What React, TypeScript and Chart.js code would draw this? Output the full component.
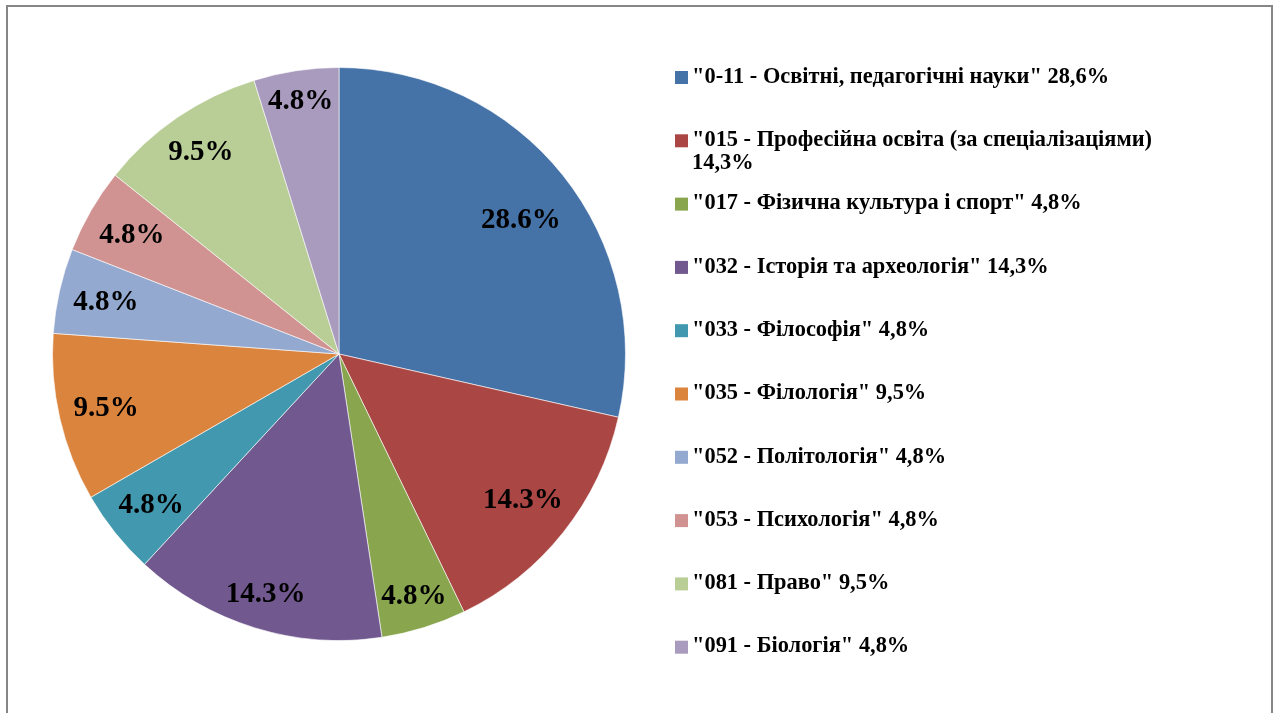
import React, { useEffect, useRef } from "react";
import { Chart, registerables } from "chart.js";

Chart.register(...registerables);

const categories = [
  '"0-11 - Освітні, педагогічні науки"',
  '"015 - Професійна освіта (за спеціалізаціями)',
  '"017 - Фізична культура і спорт"',
  '"032 - Історія та археологія"',
  '"033 - Філософія"',
  '"035 - Філологія"',
  '"052 - Політологія"',
  '"053 - Психологія"',
  '"081 - Право"',
  '"091 - Біологія"',
];

const percentValues = [28.6, 14.3, 4.8, 14.3, 4.8, 9.5, 4.8, 4.8, 9.5, 4.8];

const sliceColors = [
  "#4572A7",
  "#AA4643",
  "#89A54E",
  "#71588F",
  "#4198AF",
  "#DB843D",
  "#93A9CF",
  "#D19392",
  "#B9CD96",
  "#A99BBD",
];

const FONT = '"Liberation Serif", "Times New Roman", serif';

const framePlugin = {
  id: "frame",
  beforeDraw(chart: any) {
    const ctx = chart.ctx;
    ctx.save();
    ctx.fillStyle = "#ffffff";
    ctx.fillRect(0, 0, chart.width, chart.height);
    ctx.strokeStyle = "#868686";
    ctx.lineWidth = 2;
    ctx.strokeRect(7, 6, 1265, 720);
    ctx.restore();
  },
};

const sliceLabelPlugin = {
  id: "sliceLabels",
  afterDatasetsDraw(chart: any) {
    const ctx = chart.ctx;
    const meta = chart.getDatasetMeta(0);
    ctx.save();
    ctx.font = `bold 29px ${FONT}`;
    ctx.fillStyle = "#000000";
    ctx.textAlign = "center";
    ctx.textBaseline = "middle";
    meta.data.forEach((arc: any, i: number) => {
      const p = arc.getProps(["x", "y", "startAngle", "endAngle", "outerRadius"], true);
      const span = p.endAngle - p.startAngle;
      const text = `${percentValues[i].toFixed(1)}%`;
      // very wide slices get their label slightly past the middle, a bit deeper inside
      const mid = p.startAngle + span * (span > Math.PI / 2 ? 0.52 : 0.5);
      const hw = ctx.measureText(text).width / 2;
      const hh = 12;
      const c = Math.cos(mid);
      const s = Math.sin(mid);
      const proj = hw * Math.abs(c) + hh * Math.abs(s);
      let r = p.outerRadius - proj - 13;
      if (span > Math.PI / 2) r = p.outerRadius * 0.79;
      const x = p.x + c * r;
      const y = p.y + s * r;
      ctx.fillText(text, x, y + 1);
    });
    ctx.restore();
  },
};

const legendPlugin = {
  id: "customLegend",
  afterDraw(chart: any) {
    const ctx = chart.ctx;
    const x0 = 675;
    const textX = 692;
    const top = 77;
    const step = 63.3;
    const lineH = 23;
    const maxW = 490;
    ctx.save();
    ctx.font = `bold 22.4px ${FONT}`;
    ctx.textBaseline = "middle";
    ctx.textAlign = "left";
    categories.forEach((cat, i) => {
      const full = `${cat} ${percentValues[i].toFixed(1).replace(".", ",")}%`;
      const words = full.split(" ");
      const lines: string[] = [];
      let cur = "";
      words.forEach((w) => {
        const test = cur ? cur + " " + w : w;
        if (ctx.measureText(test).width > maxW && cur) {
          lines.push(cur);
          cur = w;
        } else {
          cur = test;
        }
      });
      if (cur) lines.push(cur);
      const y = top + i * step;
      ctx.fillStyle = sliceColors[i];
      ctx.fillRect(x0, y - 6, 13, 13);
      ctx.fillStyle = "#000000";
      lines.forEach((ln, j) => {
        ctx.fillText(ln, textX, y + j * lineH);
      });
    });
    ctx.restore();
  },
};

export default function App() {
  const ref = useRef<HTMLCanvasElement>(null);
  useEffect(() => {
    if (!ref.current) return;
    const chart = new Chart(ref.current, {
      type: "pie",
      data: {
        labels: categories,
        datasets: [
          {
            data: percentValues,
            backgroundColor: sliceColors,
            borderColor: "rgba(255,255,255,0.6)",
            borderWidth: 1,
          },
        ],
      },
      options: {
        responsive: false,
        animation: false,
        devicePixelRatio: 1,
        layout: { padding: { left: 52, right: 654, top: 67, bottom: 72 } },
        plugins: {
          legend: { display: false },
          tooltip: { enabled: false },
          title: { display: false },
        },
      },
      plugins: [framePlugin, sliceLabelPlugin, legendPlugin],
    });
    return () => chart.destroy();
  }, []);
  return (
    <div style={{ position: "fixed", left: 0, top: 0, width: 1280, height: 713, background: "#fff" }}>
      <canvas ref={ref} width={1280} height={713} style={{ width: 1280, height: 713, display: "block" }} />
    </div>
  );
}
